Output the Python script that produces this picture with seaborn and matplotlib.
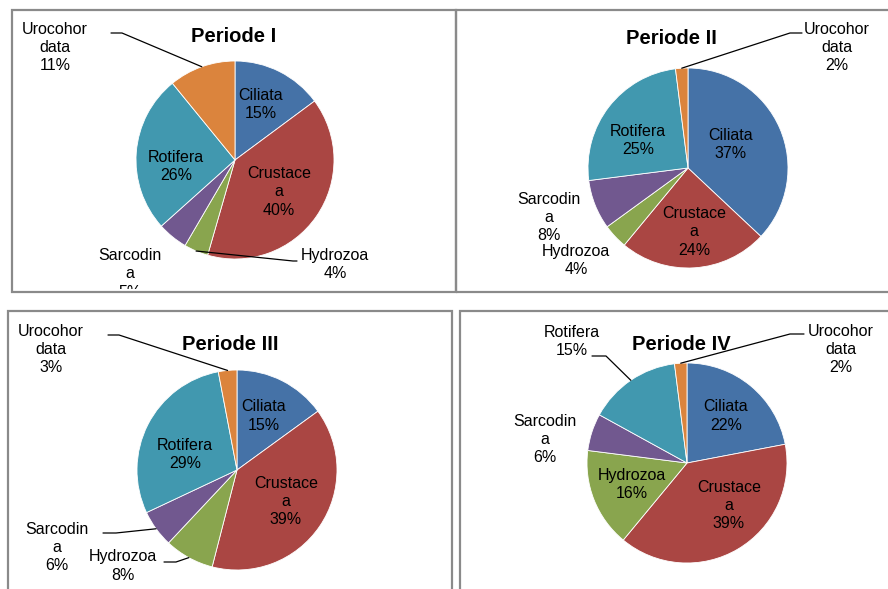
import numpy as np
import matplotlib
matplotlib.use("Agg")
import matplotlib.pyplot as plt
from matplotlib.patches import Rectangle
import seaborn as sns

# ---------------- data ----------------
categories = ["Ciliata", "Crustacea", "Hydrozoa", "Sarcodina", "Rotifera", "Urocohordata"]
label_lines = ["Ciliata", "Crustace\na", "Hydrozoa", "Sarcodin\na", "Rotifera", "Urocohor\ndata"]
titles = ["Periode I", "Periode II", "Periode III", "Periode IV"]
periode_1 = [15, 40, 4, 5, 26, 11]
periode_2 = [37, 24, 4, 8, 25, 2]
periode_3 = [15, 39, 8, 6, 29, 3]
periode_4 = [22, 39, 16, 6, 15, 2]
series = [periode_1, periode_2, periode_3, periode_4]

# ---------------- style ----------------
sns.set_theme(style="white")
plt.rcParams["font.family"] = ["Liberation Sans", "DejaVu Sans"]
palette = sns.color_palette(["#4572A7", "#AA4643", "#89A54E", "#71588F", "#4198AF", "#DB843D"])

W, H = 888, 589
def Y(y):
    return H - y

# layout (image pixel coordinates)
panels = [(12, 10, 455.5, 292), (455.5, 10, 892, 292), (8, 310.5, 451.5, 600), (460, 310.5, 892, 600)]
centers = [(235, 160, 99), (688, 168, 100), (237, 470, 100), (687, 463, 100)]
title_pos = [(234, 36), (671, 38), (230, 344), (681, 344)]
label_pos = [
    [(261, 104.5), (279, 192), (335, 264.5), (130, 274), (176, 166.5), (55, 47.5)],
    [(731, 144.5), (694, 232), (576, 260.5), (549, 217.5), (638, 140.5), (837, 47.5)],
    [(264, 416), (286, 501.5), (123, 566), (57, 547.5), (185, 454.5), (51, 349.5)],
    [(726, 416), (729, 505.5), (632, 484.5), (545, 439.5), (572, 341.5), (841, 349.5)],
]
leaders = [
    {5: [(111, 33), (122, 33)], 2: [(297, 261), (293, 261)]},
    {5: [(802, 33), (790, 33)]},
    {5: [(108, 335), (119, 335)], 3: [(103, 533), (116, 533)], 2: [(164, 562), (176, 562)]},
    {4: [(592, 356), (606, 356)], 5: [(804, 334), (790, 334)]},
]

fig = plt.figure(figsize=(W / 100, H / 100), dpi=100)
ax = fig.add_axes([0, 0, 1, 1])

for i, vals in enumerate(series):
    x0, y0, x1, y1 = panels[i]
    cx, cy, r = centers[i]
    clip = Rectangle((x0 + 1, Y(y1) + 3), x1 - x0 - 2, y1 - y0 - 4, transform=ax.transData,
                     facecolor="none", edgecolor="none")
    ax.add_patch(clip)
    ax.add_patch(Rectangle((x0, Y(y1)), x1 - x0, y1 - y0, facecolor="none",
                           edgecolor="#8a8a8a", linewidth=1.6, zorder=5))
    ax.pie(vals, colors=palette, startangle=90, counterclock=False,
           center=(cx, Y(cy)), radius=r, frame=True,
           wedgeprops=dict(edgecolor="white", linewidth=0.6))
    total = float(np.sum(vals))
    cum = np.cumsum(vals) - np.array(vals) / 2.0
    for k, v in enumerate(vals):
        lx, ly = label_pos[i][k]
        t = ax.text(lx, Y(ly), f"{label_lines[k]}\n{v}%", ha="center", va="center",
                    multialignment="center", fontsize=11.5, color="black", linespacing=1.27,
                    zorder=6, clip_on=True)
        t.set_clip_path(clip)
        if k in leaders[i]:
            theta = np.deg2rad(90 - 360 * cum[k] / total)
            ex, ey = cx + r * np.cos(theta), Y(cy) + r * np.sin(theta)
            pts = leaders[i][k]
            xs = [p[0] for p in pts] + [ex]
            ys = [Y(p[1]) for p in pts] + [ey]
            ax.plot(xs, ys, color="black", linewidth=0.9, zorder=4)
    tx, ty = title_pos[i]
    ax.text(tx, Y(ty), titles[i], ha="center", va="center", fontsize=14.5,
            fontweight="bold", color="black", zorder=6)

ax.set_xlim(0, W)
ax.set_ylim(0, H)
ax.set_aspect("equal")
ax.axis("off")
fig.savefig("out.png", dpi=100, facecolor="white")
